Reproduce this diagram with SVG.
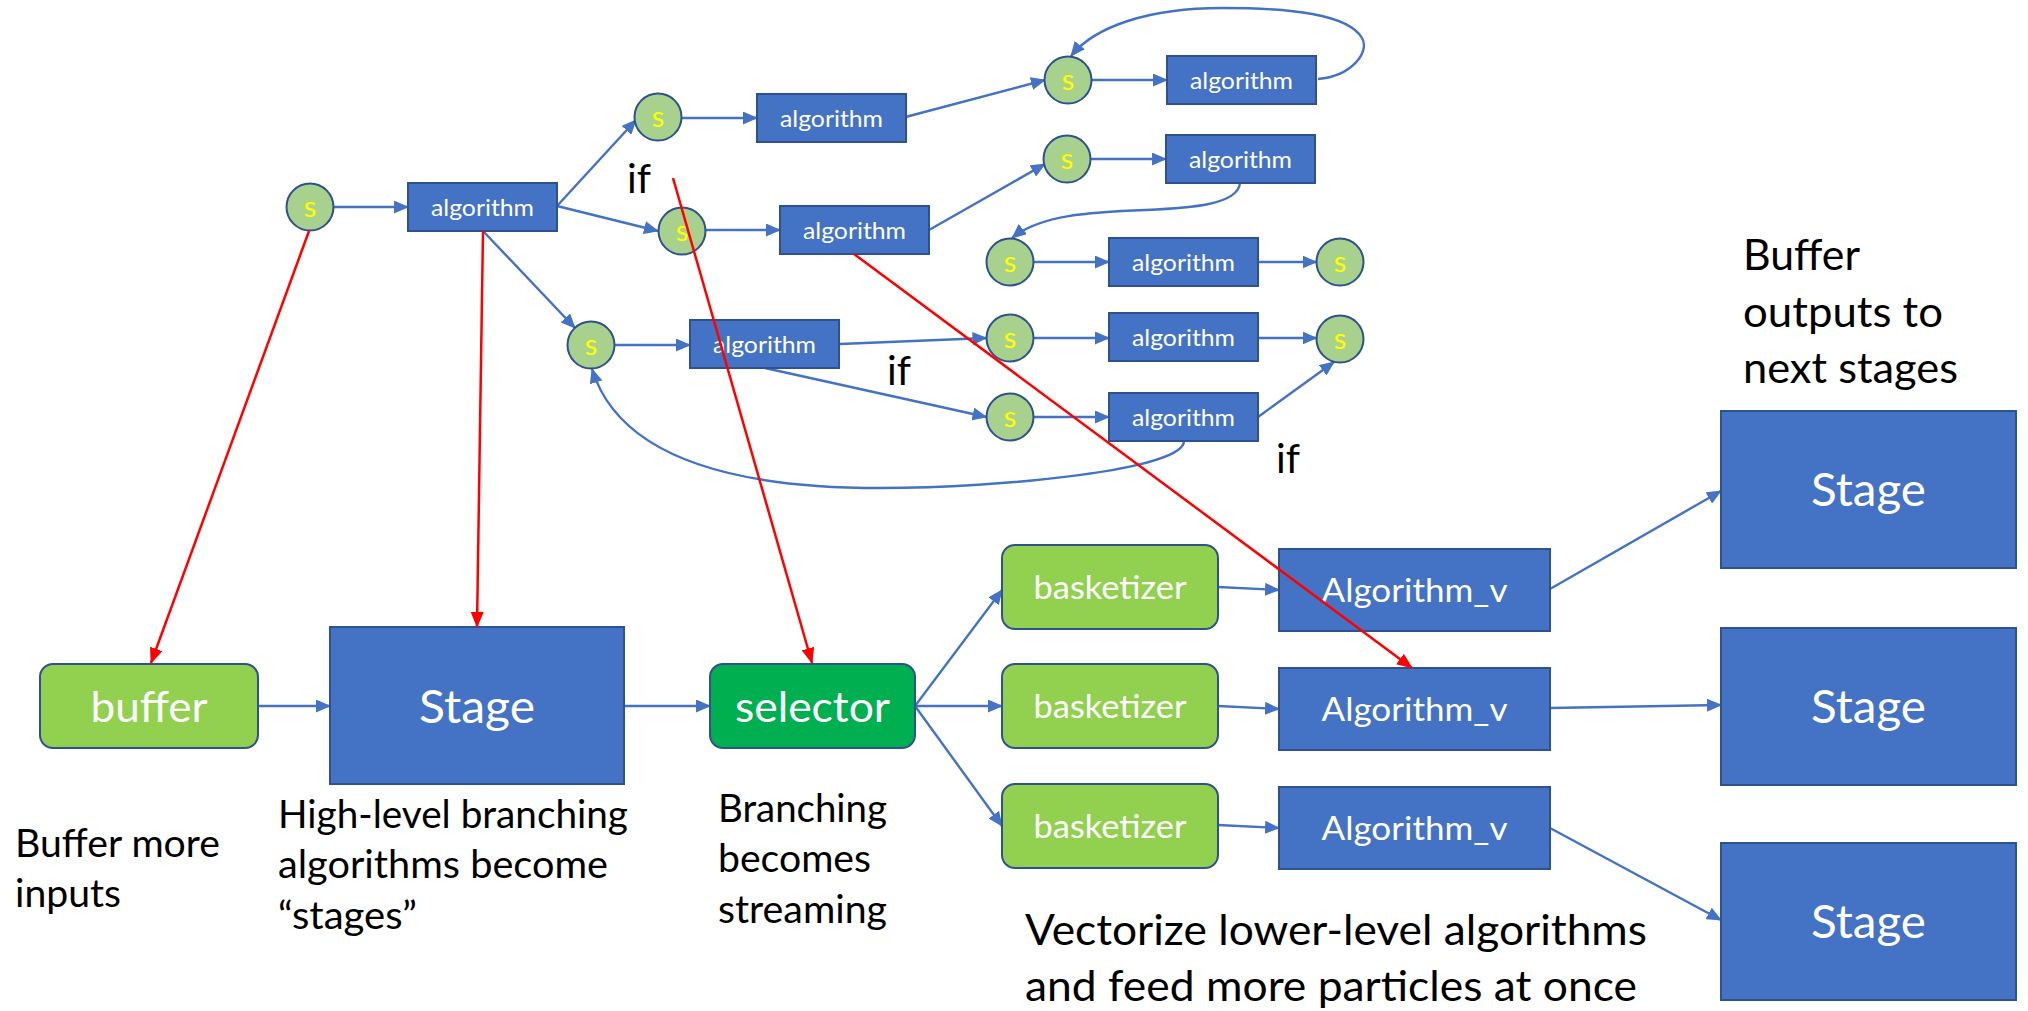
<svg xmlns="http://www.w3.org/2000/svg" width="2028" height="1011" viewBox="0 0 2028 1011">
  <style>
    .bg { fill: #ffffff; }
    .box { fill: #4472C4; stroke: #2F528F; stroke-width: 2; }
    .sel { fill: #A9D18E; stroke: #2F528F; stroke-width: 2; }
    .lime { fill: #92D050; stroke: #2F528F; stroke-width: 2; }
    .green { fill: #00B050; stroke: #2F528F; stroke-width: 2; }
    .lbl { font-family: Lato, "Open Sans", sans-serif; fill: #ffffff; text-anchor: middle; }
    .s { font-family: Lato, "Open Sans", sans-serif; fill: #FFFF00; font-size: 29px; text-anchor: middle; }
    .note { font-family: Lato, "Open Sans", sans-serif; fill: #000000; }
    .edge { fill: none; stroke: #4472C4; stroke-width: 2.4; marker-end: url(#arr); }
    .red { fill: none; stroke: #FF0000; stroke-width: 2.5; marker-end: url(#arrRed); }
  </style>
  <defs>
    <marker id="arr" markerUnits="userSpaceOnUse" markerWidth="15" markerHeight="13" refX="14" refY="6.5" orient="auto">
      <path d="M0,0 L15,6.5 L0,13 z" fill="#4472C4"/>
    </marker>
    <marker id="arrRed" markerUnits="userSpaceOnUse" markerWidth="16" markerHeight="13" refX="15" refY="6.5" orient="auto">
      <path d="M0,0 L16,6.5 L0,13 z" fill="#FF0000"/>
    </marker>
  </defs>
  <rect class="bg" x="0" y="0" width="2028" height="1011"/>

  <!-- blue connectors -->
  <g id="connectors">
    <line class="edge" x1="333.5" y1="207" x2="408" y2="207"/>
    <line class="edge" x1="557" y1="206" x2="636" y2="120"/>
    <line class="edge" x1="557" y1="206" x2="658" y2="231"/>
    <line class="edge" x1="483" y1="231" x2="575" y2="328"/>
    <line class="edge" x1="681.5" y1="118" x2="757" y2="118"/>
    <line class="edge" x1="705.5" y1="230" x2="780" y2="230"/>
    <line class="edge" x1="614.5" y1="345" x2="690" y2="345"/>
    <line class="edge" x1="905.5" y1="117" x2="1045" y2="80"/>
    <line class="edge" x1="929" y1="230" x2="1045" y2="164"/>
    <line class="edge" x1="1091.5" y1="80" x2="1167" y2="80"/>
    <line class="edge" x1="1090.5" y1="159" x2="1166" y2="159"/>
    <path class="edge" d="M1318,79 C1352,76 1370,52 1362,38 C1348,14 1290,8 1222,8 C1150,8 1095,26 1071,56"/>
    <path class="edge" d="M1240,183 C1238,205 1190,208 1146,210 C1090,212 1040,215 1012,238"/>
    <line class="edge" x1="1033.5" y1="262" x2="1109" y2="262"/>
    <line class="edge" x1="1258" y1="262" x2="1316.5" y2="262"/>
    <line class="edge" x1="840" y1="344" x2="986.5" y2="338"/>
    <line class="edge" x1="765" y1="368" x2="986.5" y2="417"/>
    <line class="edge" x1="1033.5" y1="338" x2="1109" y2="338"/>
    <line class="edge" x1="1033.5" y1="417" x2="1109" y2="417"/>
    <line class="edge" x1="1258" y1="338" x2="1316.5" y2="338"/>
    <line class="edge" x1="1258" y1="417" x2="1334" y2="362"/>
    <path class="edge" d="M1184,441 C1184,470 1000,488 880,488 C740,488 620,460 592,369"/>

    <line class="edge" x1="258" y1="706" x2="330" y2="706"/>
    <line class="edge" x1="624" y1="706" x2="710" y2="706"/>
    <line class="edge" x1="915" y1="706" x2="1002" y2="590"/>
    <line class="edge" x1="915" y1="706" x2="1002" y2="706"/>
    <line class="edge" x1="915" y1="706" x2="1002" y2="826"/>
    <line class="edge" x1="1218" y1="587" x2="1279" y2="590"/>
    <line class="edge" x1="1218" y1="706" x2="1279" y2="709"/>
    <line class="edge" x1="1218" y1="825" x2="1279" y2="828"/>
    <line class="edge" x1="1550" y1="589" x2="1721" y2="491"/>
    <line class="edge" x1="1550" y1="708" x2="1721" y2="705"/>
    <line class="edge" x1="1550" y1="828" x2="1721" y2="920"/>
  </g>

  <!-- upper graph: switch circles -->
  <g id="s1"><circle class="sel" cx="310" cy="207" r="23.5"/><text class="s" x="310" y="217">s</text></g>
  <g id="s2"><circle class="sel" cx="658" cy="117" r="23.5"/><text class="s" x="658" y="127">s</text></g>
  <g id="s3"><circle class="sel" cx="682" cy="231" r="23.5"/><text class="s" x="682" y="241">s</text></g>
  <g id="s4"><circle class="sel" cx="591" cy="345" r="23.5"/><text class="s" x="591" y="355">s</text></g>
  <g id="s5"><circle class="sel" cx="1068" cy="80" r="23.5"/><text class="s" x="1068" y="90">s</text></g>
  <g id="s6"><circle class="sel" cx="1067" cy="159" r="23.5"/><text class="s" x="1067" y="169">s</text></g>
  <g id="s7"><circle class="sel" cx="1010" cy="262" r="23.5"/><text class="s" x="1010" y="272">s</text></g>
  <g id="s8"><circle class="sel" cx="1340" cy="262" r="23.5"/><text class="s" x="1340" y="272">s</text></g>
  <g id="s9"><circle class="sel" cx="1010" cy="338" r="23.5"/><text class="s" x="1010" y="348">s</text></g>
  <g id="s10"><circle class="sel" cx="1340" cy="339" r="23.5"/><text class="s" x="1340" y="349">s</text></g>
  <g id="s11"><circle class="sel" cx="1010" cy="417" r="23.5"/><text class="s" x="1010" y="427">s</text></g>

  <!-- upper graph: algorithm boxes -->
  <g id="alg1"><rect class="box" x="408" y="183" width="149" height="48"/><text class="lbl" x="482.5" y="215.5" font-size="24" textLength="103" lengthAdjust="spacingAndGlyphs">algorithm</text></g>
  <g id="alg2"><rect class="box" x="757" y="94" width="149" height="48"/><text class="lbl" x="831.5" y="126.5" font-size="24" textLength="103" lengthAdjust="spacingAndGlyphs">algorithm</text></g>
  <g id="alg3"><rect class="box" x="1167" y="56" width="149" height="48"/><text class="lbl" x="1241.5" y="88.5" font-size="24" textLength="103" lengthAdjust="spacingAndGlyphs">algorithm</text></g>
  <g id="alg4"><rect class="box" x="1166" y="135" width="149" height="48"/><text class="lbl" x="1240.5" y="167.5" font-size="24" textLength="103" lengthAdjust="spacingAndGlyphs">algorithm</text></g>
  <g id="alg5"><rect class="box" x="780" y="206" width="149" height="48"/><text class="lbl" x="854.5" y="238.5" font-size="24" textLength="103" lengthAdjust="spacingAndGlyphs">algorithm</text></g>
  <g id="alg6"><rect class="box" x="1109" y="238" width="149" height="48"/><text class="lbl" x="1183.5" y="270.5" font-size="24" textLength="103" lengthAdjust="spacingAndGlyphs">algorithm</text></g>
  <g id="alg7"><rect class="box" x="690" y="320" width="149" height="48"/><text class="lbl" x="764.5" y="352.5" font-size="24" textLength="103" lengthAdjust="spacingAndGlyphs">algorithm</text></g>
  <g id="alg8"><rect class="box" x="1109" y="313" width="149" height="48"/><text class="lbl" x="1183.5" y="345.5" font-size="24" textLength="103" lengthAdjust="spacingAndGlyphs">algorithm</text></g>
  <g id="alg9"><rect class="box" x="1109" y="393" width="149" height="48"/><text class="lbl" x="1183.5" y="425.5" font-size="24" textLength="103" lengthAdjust="spacingAndGlyphs">algorithm</text></g>

  <!-- lower pipeline -->
  <g id="buffer"><rect class="lime" x="40" y="664" width="218" height="84" rx="13"/><text class="lbl" x="149" y="722" font-size="42" textLength="117" lengthAdjust="spacingAndGlyphs">buffer</text></g>
  <g id="stage"><rect class="box" x="330" y="627" width="294" height="157"/><text class="lbl" x="477" y="722.5" font-size="47" textLength="116" lengthAdjust="spacingAndGlyphs">Stage</text></g>
  <g id="selector"><rect class="green" x="710" y="664" width="205" height="84" rx="13"/><text class="lbl" x="812.5" y="722" font-size="42" textLength="155" lengthAdjust="spacingAndGlyphs">selector</text></g>
  <g id="basketizer1"><rect class="lime" x="1002" y="545" width="216" height="84" rx="13"/><text class="lbl" x="1110" y="599" font-size="33" textLength="153" lengthAdjust="spacingAndGlyphs">basketizer</text></g>
  <g id="basketizer2"><rect class="lime" x="1002" y="664" width="216" height="84" rx="13"/><text class="lbl" x="1110" y="718" font-size="33" textLength="153" lengthAdjust="spacingAndGlyphs">basketizer</text></g>
  <g id="basketizer3"><rect class="lime" x="1002" y="784" width="216" height="84" rx="13"/><text class="lbl" x="1110" y="838" font-size="33" textLength="153" lengthAdjust="spacingAndGlyphs">basketizer</text></g>
  <g id="algv1"><rect class="box" x="1279" y="549" width="271" height="82"/><text class="lbl" x="1414.5" y="601.5" font-size="33.5" textLength="186" lengthAdjust="spacingAndGlyphs">Algorithm_v</text></g>
  <g id="algv2"><rect class="box" x="1279" y="668" width="271" height="82"/><text class="lbl" x="1414.5" y="720.5" font-size="33.5" textLength="186" lengthAdjust="spacingAndGlyphs">Algorithm_v</text></g>
  <g id="algv3"><rect class="box" x="1279" y="787" width="271" height="82"/><text class="lbl" x="1414.5" y="839.5" font-size="33.5" textLength="186" lengthAdjust="spacingAndGlyphs">Algorithm_v</text></g>
  <g id="stageR1"><rect class="box" x="1721" y="411" width="295" height="157"/><text class="lbl" x="1868.5" y="506" font-size="47" textLength="115" lengthAdjust="spacingAndGlyphs">Stage</text></g>
  <g id="stageR2"><rect class="box" x="1721" y="628" width="295" height="157"/><text class="lbl" x="1868.5" y="723" font-size="47" textLength="115" lengthAdjust="spacingAndGlyphs">Stage</text></g>
  <g id="stageR3"><rect class="box" x="1721" y="843" width="295" height="157"/><text class="lbl" x="1868.5" y="938" font-size="47" textLength="115" lengthAdjust="spacingAndGlyphs">Stage</text></g>

  <!-- red mapping arrows -->
  <g id="mapping">
    <line class="red" x1="309" y1="231" x2="151" y2="663"/>
    <line class="red" x1="483" y1="231" x2="477" y2="627"/>
    <line class="red" x1="673" y1="178" x2="812" y2="663"/>
    <line class="red" x1="854" y1="254" x2="1412" y2="668"/>
  </g>

  <!-- annotations -->
  <g id="notes" class="note">
    <text class="note" x="627" y="193" font-size="40" textLength="24" lengthAdjust="spacingAndGlyphs">if</text>
    <text class="note" x="887" y="385" font-size="40" textLength="24" lengthAdjust="spacingAndGlyphs">if</text>
    <text class="note" x="1276" y="473" font-size="40" textLength="24" lengthAdjust="spacingAndGlyphs">if</text>

    <text class="note" x="15" y="857" font-size="38" textLength="205" lengthAdjust="spacingAndGlyphs">Buffer more</text>
    <text class="note" x="15" y="907" font-size="38" textLength="106" lengthAdjust="spacingAndGlyphs">inputs</text>

    <text class="note" x="278" y="828" font-size="38" textLength="350" lengthAdjust="spacingAndGlyphs">High-level branching</text>
    <text class="note" x="278" y="878" font-size="38" textLength="330" lengthAdjust="spacingAndGlyphs">algorithms become</text>
    <text class="note" x="278" y="929" font-size="38" textLength="139" lengthAdjust="spacingAndGlyphs">“stages”</text>

    <text class="note" x="718" y="822" font-size="38" textLength="169" lengthAdjust="spacingAndGlyphs">Branching</text>
    <text class="note" x="718" y="872" font-size="38" textLength="153" lengthAdjust="spacingAndGlyphs">becomes</text>
    <text class="note" x="718" y="923" font-size="38" textLength="169" lengthAdjust="spacingAndGlyphs">streaming</text>

    <text class="note" x="1743" y="270" font-size="42" textLength="117" lengthAdjust="spacingAndGlyphs">Buffer</text>
    <text class="note" x="1743" y="327" font-size="42" textLength="200" lengthAdjust="spacingAndGlyphs">outputs to</text>
    <text class="note" x="1743" y="383" font-size="42" textLength="215" lengthAdjust="spacingAndGlyphs">next stages</text>

    <text class="note" x="1025" y="945" font-size="42" textLength="622" lengthAdjust="spacingAndGlyphs">Vectorize lower-level algorithms</text>
    <text class="note" x="1025" y="1001" font-size="42" textLength="612" lengthAdjust="spacingAndGlyphs">and feed more particles at once</text>
  </g>
</svg>
